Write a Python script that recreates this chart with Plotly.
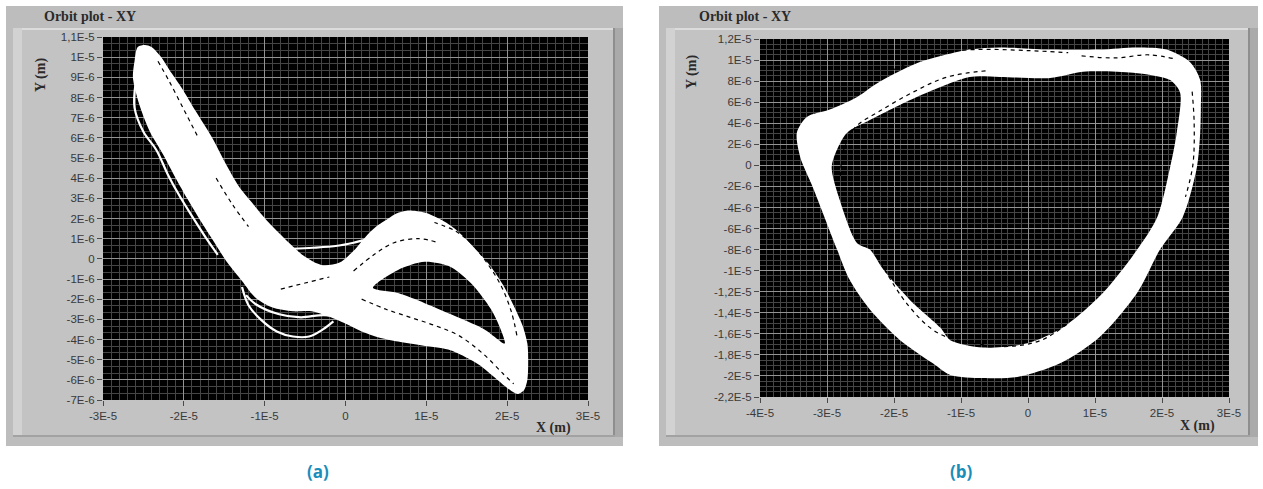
import plotly.graph_objects as go

W, H = 1263, 489
UM = 1e-6  # orbit coordinates below are in micrometres

# ---------------- (a) orbit: envelope of the dense trajectory band ----------------
a_band_x = [-25.7, -26.1, -26.3, -25.9, -25.3, -24.2, -22.6, -21.0, -19.6, -17.8, -16.2,
            -14.6, -12.8, -11.2, -9.1, -6.5, -4.2, -1.2, 2.0, 4.1, 6.5, 9.5, 12.7, 15.0,
            16.7, 18.5, 20.0, 21.3, 22.1, 22.5, 22.6, 22.5, 21.9, 20.9, 19.5, 18.0, 16.5,
            15.1, 13.5, 11.8, 9.8, 7.7, 6.3, 5.3, 3.8, 2.5, 1.0, -0.8, -3.0, -5.0, -7.0,
            -9.5, -11.6, -13.2, -14.8, -16.5, -18.5, -20.3, -21.5, -22.8, -24.0, -24.8]
a_band_y = [10.5, 9.8, 9.0, 8.2, 7.4, 6.3, 5.2, 4.0, 3.0, 1.8, 0.8,
            -0.2, -1.1, -1.9, -2.4, -2.6, -2.6, -3.0, -3.6, -3.9, -4.1, -4.3, -4.5, -4.9,
            -5.3, -5.9, -6.4, -6.7, -6.5, -6.0, -5.0, -4.2, -3.3, -2.4, -1.3, -0.4, 0.3,
            0.9, 1.5, 1.95, 2.3, 2.4, 2.25, 2.0, 1.6, 1.1, 0.4, -0.2, -0.3, 0.1, 0.8,
            1.8, 2.8, 3.6, 4.7, 6.0, 7.3, 8.5, 9.2, 10.0, 10.5, 10.6]
# empty region inside the right-hand lobe
a_hole_x = [3.4, 6.5, 9.8, 13.0, 15.5, 18.0, 19.2, 19.7, 17.2, 13.9, 9.8, 6.5]
a_hole_y = [-1.44, -0.55, -0.15, -0.4, -1.2, -2.5, -3.5, -4.2, -3.5, -2.9, -2.2, -1.7]

# individual passes lying outside the band
a_pass1_x = [-26.0, -26.1, -25.0, -23.4, -22.0, -20.5, -18.8, -17.2, -15.8]
a_pass1_y = [8.6, 7.5, 6.3, 5.4, 4.2, 3.1, 2.0, 1.0, 0.2]
a_pass2_x = [-12.8, -12.0, -10.5, -8.5, -6.5, -4.5, -2.8, -1.5]
a_pass2_y = [-1.4, -2.3, -3.0, -3.6, -3.85, -3.85, -3.5, -3.1]
a_pass3_x = [-12.3, -11.1, -8.2, -5.5, -3.3, -2.0]
a_pass3_y = [-1.8, -2.25, -2.75, -2.9, -2.8, -2.8]
a_pass4_x = [-6.6, -4.0, -1.0, 1.0, 2.5]
a_pass4_y = [0.5, 0.55, 0.65, 0.8, 0.95]

# thin gaps between neighbouring passes inside the band
a_gaps = [
    ([-23.2, -21.8, -20.0, -18.2], [9.8, 8.8, 7.4, 6.0]),
    ([-16.0, -14.0, -12.0], [4.0, 2.7, 1.6]),
    ([1.0, 3.5, 6.0, 9.0, 11.5], [-0.6, 0.2, 0.8, 1.0, 0.8]),
    ([2.0, 5.0, 8.0, 11.0, 14.0, 17.0, 19.5, 20.8], [-2.0, -2.5, -2.9, -3.3, -3.8, -4.7, -5.7, -6.2]),
    ([21.2, 20.5, 19.2, 17.5, 15.5, 13.5, 11.0], [-3.8, -2.6, -1.3, -0.2, 0.8, 1.4, 1.8]),
    ([-8.0, -5.0, -2.0], [-1.5, -1.2, -0.9]),
]

a_xticks = [-3e-5, -2e-5, -1e-5, 0, 1e-5, 2e-5, 3e-5]
a_xtext = ["-3E-5", "-2E-5", "-1E-5", "0", "1E-5", "2E-5", "3E-5"]
a_yticks = [1.1e-5, 1e-5, 9e-6, 8e-6, 7e-6, 6e-6, 5e-6, 4e-6, 3e-6, 2e-6, 1e-6, 0,
            -1e-6, -2e-6, -3e-6, -4e-6, -5e-6, -6e-6, -7e-6]
a_ytext = ["1,1E-5", "1E-5", "9E-6", "8E-6", "7E-6", "6E-6", "5E-6", "4E-6", "3E-6", "2E-6",
           "1E-6", "0", "-1E-6", "-2E-6", "-3E-6", "-4E-6", "-5E-6", "-6E-6", "-7E-6"]

# ---------------- (b) orbit: closed ring ----------------
b_outer_x = [-8.7, -4.2, 3.3, 10.7, 16.3, 20.7, 24.2, 25.7, 25.8, 25.7, 25.2, 23.1, 19.7,
             16.3, 10.7, 4.8, -1.6, -6.7, -11.6, -14.2, -19.1, -23.6, -26.6, -28.5, -32.1,
             -34.0, -34.5, -33.0, -29.6, -25.5, -22.5, -16.6]
b_outer_y = [11.0, 11.2, 11.0, 11.0, 11.2, 11.0, 9.8, 8.1, 5.5, 3.1, -0.2, -4.9, -8.0,
             -12.1, -16.3, -18.8, -20.1, -20.2, -19.9, -18.8, -16.6, -13.7, -10.9, -8.0, -2.1,
             0.8, 3.1, 4.6, 5.3, 6.5, 7.8, 9.7]
b_inner_x = [-8.7, -4.2, 3.3, 8.2, 15.7, 21.2, 22.7, 22.2, 21.2, 19.3, 16.3, 11.2, 5.2,
             -0.1, -6.7, -11.6, -13.1, -17.6, -21.6, -23.6, -25.5, -28.1, -29.3, -28.5,
             -27.0, -23.6, -16.6]
b_inner_y = [8.4, 8.4, 8.3, 8.9, 8.8, 8.1, 6.9, 3.1, -0.2, -4.9, -8.0, -12.1, -15.4,
             -16.9, -17.3, -16.6, -15.4, -12.8, -9.9, -8.0, -7.4, -3.3, -0.2, 1.5,
             3.1, 4.3, 6.5]

b_gaps = [
    ([-28.0, -27.5, -25.8, -22.0, -17.0, -12.0, -6.0], [-1.0, 1.5, 3.6, 5.2, 7.0, 8.4, 9.0]),
    ([-22.0, -18.0, -13.5, -8.0, -3.0, 2.0, 6.0], [-9.2, -13.2, -15.9, -16.9, -17.2, -16.6, -15.0]),
    ([-20.0, -14.0, -8.0, 0.0, 6.0], [9.1, 10.6, 11.0, 10.9, 10.7]),
    ([24.5, 24.8, 24.6, 23.5], [7.0, 4.0, 0.0, -3.0]),
    ([8.0, 13.0, 18.0, 22.0], [10.4, 10.2, 10.5, 10.1]),
]

b_xticks = [-4e-5, -3e-5, -2e-5, -1e-5, 0, 1e-5, 2e-5, 3e-5]
b_xtext = ["-4E-5", "-3E-5", "-2E-5", "-1E-5", "0", "1E-5", "2E-5", "3E-5"]
b_yticks = [1.2e-5, 1e-5, 8e-6, 6e-6, 4e-6, 2e-6, 0, -2e-6, -4e-6, -6e-6, -8e-6, -1e-5,
            -1.2e-5, -1.4e-5, -1.6e-5, -1.8e-5, -2e-5, -2.2e-5]
b_ytext = ["1,2E-5", "1E-5", "8E-6", "6E-6", "4E-6", "2E-6", "0", "-2E-6", "-4E-6", "-6E-6",
           "-8E-6", "-1E-5", "-1,2E-5", "-1,4E-5", "-1,6E-5", "-1,8E-5", "-2E-5", "-2,2E-5"]


def signed_area(xs, ys):
    s = 0.0
    for i in range(len(xs)):
        j = (i + 1) % len(xs)
        s += xs[i] * ys[j] - xs[j] * ys[i]
    return s / 2


def um(vals):
    return [v * UM for v in vals]


def add_ring(fig, ox, oy, hx, hy, xa, ya):
    """Fill the area between an outer loop and an inner loop (hole left open)."""
    if (signed_area(ox, oy) > 0) != (signed_area(hx, hy) > 0):
        hx, hy = hx[::-1], hy[::-1]
    hx = list(hx) + [hx[0]]
    hy = list(hy) + [hy[0]]
    ox = list(ox) + [ox[0]]
    oy = list(oy) + [oy[0]]
    fig.add_trace(go.Scatter(x=um(hx), y=um(hy), mode="lines",
                             line=dict(width=0, color="white", shape="spline", smoothing=0.8),
                             xaxis=xa, yaxis=ya))
    fig.add_trace(go.Scatter(x=um(ox), y=um(oy), mode="lines", fill="tonext", fillcolor="white",
                             line=dict(width=0, color="white", shape="spline", smoothing=0.8),
                             xaxis=xa, yaxis=ya))


fig = go.Figure()

GAP = dict(color="black", width=1.2, dash="4px,4px", shape="spline")

# ---- (a) traces ----
add_ring(fig, a_band_x, a_band_y, a_hole_x, a_hole_y, "x", "y")
for px, py in [(a_pass1_x, a_pass1_y), (a_pass2_x, a_pass2_y),
               (a_pass3_x, a_pass3_y), (a_pass4_x, a_pass4_y)]:
    fig.add_trace(go.Scatter(x=um(px), y=um(py), mode="lines",
                             line=dict(color="white", width=2.2, shape="spline"),
                             xaxis="x", yaxis="y"))
for gx, gy in a_gaps:
    fig.add_trace(go.Scatter(x=um(gx), y=um(gy), mode="lines", line=GAP, xaxis="x", yaxis="y"))

# ---- (b) traces ----
add_ring(fig, b_outer_x, b_outer_y, b_inner_x, b_inner_y, "x2", "y2")
for gx, gy in b_gaps:
    fig.add_trace(go.Scatter(x=um(gx), y=um(gy), mode="lines", line=GAP, xaxis="x2", yaxis="y2"))

TICKFONT = dict(family="Liberation Sans, Arial, sans-serif", size=11.5, color="#3a3a3a")
MAJOR = "#939393"
MINOR = "#454545"


def axis(domain, rng, vals, text, minor_step, anchor):
    return dict(domain=domain, range=rng, tickmode="array", tickvals=vals, ticktext=text,
                ticks="outside", ticklen=5, tickcolor="#4a4a4a", tickwidth=1,
                showgrid=True, gridcolor=MAJOR, gridwidth=1, zeroline=False, showline=False,
                tickfont=TICKFONT, anchor=anchor, fixedrange=True, automargin=False,
                minor=dict(tickmode="linear", tick0=0, dtick=minor_step, showgrid=True,
                           gridcolor=MINOR, gridwidth=1, ticks=""))


def xdom(p0, p1):
    return [p0 / W, p1 / W]


def ydom(top, bottom):
    return [1 - bottom / H, 1 - top / H]


fig.update_layout(
    width=W, height=H, margin=dict(l=0, r=0, t=0, b=0, autoexpand=False),
    paper_bgcolor="white", plot_bgcolor="black", showlegend=False,
    hovermode=False,
    xaxis=axis(xdom(103, 588), [-3e-5, 3e-5], a_xticks, a_xtext, 1e-6, "y"),
    yaxis=axis(ydom(37, 400), [-7e-6, 1.1e-5], a_yticks, a_ytext, 1e-6 / 3, "x"),
    xaxis2=axis(xdom(760, 1229), [-4e-5, 3e-5], b_xticks, b_xtext, 1e-6, "y2"),
    yaxis2=axis(ydom(39, 397), [-2.2e-5, 1.2e-5], b_yticks, b_ytext, 5e-7, "x2"),
)


def prect(x0, y0, x1, y1, fill):
    return dict(type="rect", xref="paper", yref="paper", layer="below",
                x0=x0 / W, x1=x1 / W, y0=1 - y1 / H, y1=1 - y0 / H,
                fillcolor=fill, line=dict(width=0))


shapes = []
for (L, R, T, B) in [(6, 623, 6, 446), (659, 1258, 6, 446)]:
    shapes.append(prect(L, T, R, B, "#bdbdbd"))
    shapes.append(prect(L + 7, T + 22, R - 8, B - 9, "#c3c3c3"))
    shapes.append(prect(L + 7, T + 22, R - 8, T + 24, "#dcdcdc"))
    shapes.append(prect(L + 7, T + 22, L + 16, B - 9, "#d2d2d2"))
    shapes.append(prect(R - 10, T + 22, R - 8, B - 9, "#8e8e8e"))
    shapes.append(prect(R - 8, T + 22, R, B - 9, "#aaaaaa"))
    shapes.append(prect(L + 7, B - 11, R - 8, B - 9, "#a2a2a2"))
# black plotting areas
shapes.append(prect(103, 37, 588, 400, "black"))
shapes.append(prect(760, 39, 1229, 397, "black"))
fig.update_layout(shapes=shapes)

SERIF = "Liberation Serif, Times New Roman, serif"
ann = []
for (tx, ty, lx, ly, mx, my) in [(42, 17, 41, 75, 553, 428), (697, 17, 692, 72, 1197, 426)]:
    ann.append(dict(text="<b>Orbit plot - XY</b>", x=tx / W, y=1 - ty / H, xref="paper",
                    yref="paper", xanchor="left", yanchor="middle", showarrow=False,
                    font=dict(family=SERIF, size=14, color="#2a2a2a")))
    ann.append(dict(text="<b>Y (m)</b>", x=lx / W, y=1 - ly / H, xref="paper", yref="paper",
                    xanchor="center", yanchor="middle", showarrow=False, textangle=-90,
                    font=dict(family=SERIF, size=14, color="#2a2a2a")))
    ann.append(dict(text="<b>X (m)</b>", x=mx / W, y=1 - my / H, xref="paper", yref="paper",
                    xanchor="center", yanchor="middle", showarrow=False,
                    font=dict(family=SERIF, size=14, color="#2a2a2a")))
for (cx, label) in [(318, "(a)"), (962, "(b)")]:
    ann.append(dict(text="<b>" + label + "</b>", x=cx / W, y=1 - 471 / H, xref="paper",
                    yref="paper", xanchor="center", yanchor="middle", showarrow=False,
                    font=dict(family="Open Sans, sans-serif", size=17, color="#1a8dbb")))
fig.update_layout(annotations=ann)

fig.write_html("out.html")
